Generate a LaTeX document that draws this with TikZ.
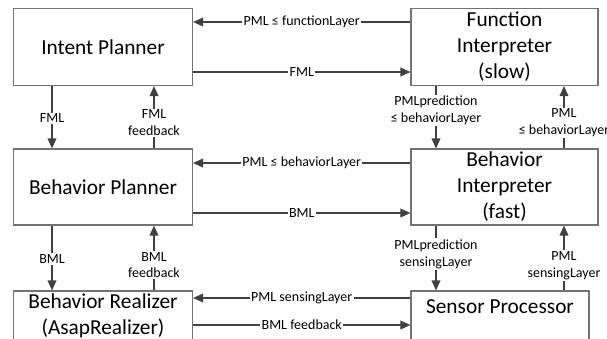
\documentclass[tikz,border=0pt]{standalone}
\usepackage{fontspec}
\setmainfont{Carlito}
\usetikzlibrary{arrows.meta,positioning}

\tikzset{
  blk/.style={rectangle, draw=black!55, line width=0.8pt, align=center,
    font=\fontsize{16}{19.5}\selectfont, inner sep=0pt},
  conn/.style={draw=black!75, line width=1.1pt, -{Triangle[length=7.5pt,width=6.5pt]}},
  lbl/.style={fill=white, inner sep=1pt, align=center, font=\fontsize{10.5}{12.6}\selectfont},
}

\begin{document}
\begin{tikzpicture}[x=0.75pt,y=-0.75pt]
  \useasboundingbox (0,0) rectangle (607,339);
  \clip (0,0) rectangle (607,339);

  % left column
  \node[blk, minimum width=134.25pt, minimum height=57.75pt] (ip) at (103,47) {Intent Planner};
  \node[blk, minimum width=134.25pt, minimum height=57pt] (bp) at (103,187) {Behavior Planner};
  \node[blk, minimum width=134.25pt, minimum height=37.5pt] (br) at (103,316) {Behavior Realizer\\(AsapRealizer)};

  % right column
  \node[blk, minimum width=140.25pt, minimum height=57.75pt] (fi) at (504.5,47) {Function\\Interpreter\\(slow)};
  \node[blk, minimum width=140.25pt, minimum height=57pt] (bi) at (504.5,187) {Behavior\\Interpreter\\(fast)};
  \node[blk, minimum width=133.5pt, minimum height=37.5pt] (sp) at (500,316) {};
  \node[font=\fontsize{16}{19.5}\selectfont, inner sep=0pt] (sptxt) at (500,307) {Sensor Processor};

  % horizontal
  \draw[conn] ([yshift=18.75pt]fi.west) -- node[lbl]{PML ≤ functionLayer} ([yshift=18.75pt]ip.east);
  \draw[conn] ([yshift=-18.75pt]ip.east) -- node[lbl]{FML} ([yshift=-18.75pt]fi.west);
  \draw[conn] ([yshift=18pt]bi.west) -- node[lbl]{PML ≤ behaviorLayer} ([yshift=18pt]bp.east);
  \draw[conn] ([yshift=-19.5pt]bp.east) -- node[lbl]{BML} ([yshift=-19.5pt]bi.west);
  \draw[conn] ([yshift=13.5pt]sp.west) -- node[lbl]{PML sensingLayer} ([yshift=13.5pt]br.east);
  \draw[conn] ([yshift=-6.75pt]br.east) -- node[lbl]{BML feedback} ([yshift=-6.75pt]sp.west);

  % vertical, left
  \draw[conn] ([xshift=-38.25pt]ip.south) -- node[lbl, pos=0.52]{FML} ([xshift=-38.25pt]bp.north);
  \draw[conn] ([xshift=38.25pt]bp.north) -- node[lbl, pos=0.41]{FML\\feedback} ([xshift=38.25pt]ip.south);
  \draw[conn] ([xshift=-38.25pt]bp.south) -- node[lbl, pos=0.52]{BML} ([xshift=-38.25pt]br.north);
  \draw[conn] ([xshift=38.25pt]br.north) -- node[lbl, pos=0.39]{BML\\feedback} ([xshift=38.25pt]bp.south);

  % vertical, right
  \draw[conn] ([xshift=-51.375pt]fi.south) -- node[lbl, pos=0.39]{PMLprediction\\≤ behaviorLayer} ([xshift=-51.375pt]bi.north);
  \draw[conn] ([xshift=44.625pt]bi.north) -- node[lbl, pos=0.41]{PML\\≤ behaviorLayer} ([xshift=44.625pt]fi.south);
  \draw[conn] ([xshift=-51.375pt]bi.south) -- node[lbl, pos=0.44]{PMLprediction\\sensingLayer} ([xshift=-48pt]sp.north);
  \draw[conn] ([xshift=48pt]sp.north) -- node[lbl, pos=0.38]{PML\\sensingLayer} ([xshift=44.625pt]bi.south);
\end{tikzpicture}
\end{document}
